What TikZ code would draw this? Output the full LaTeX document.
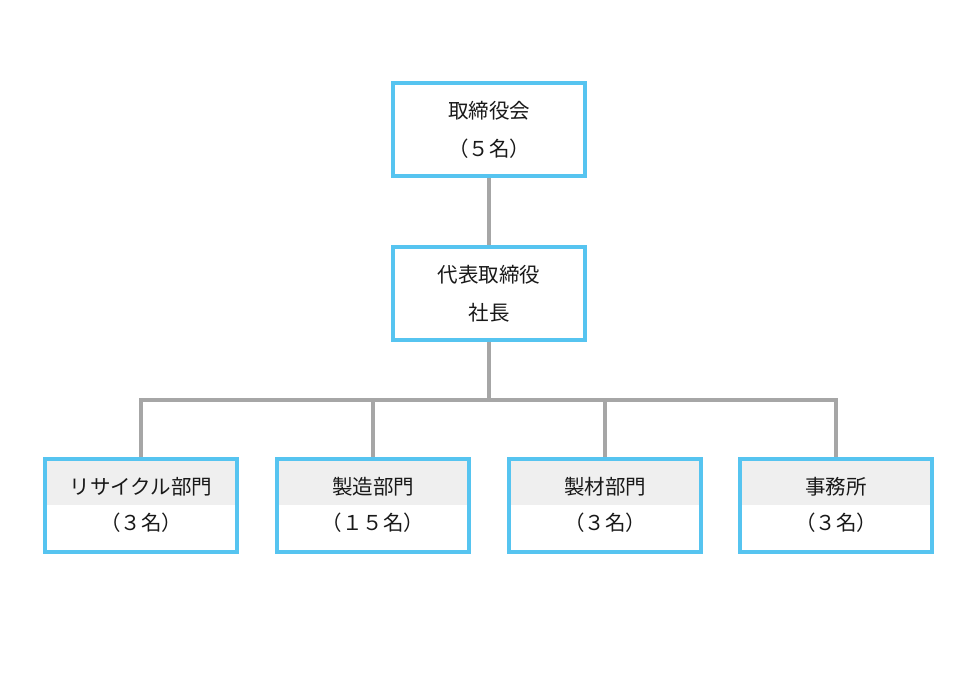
\documentclass[tikz,border=0pt]{standalone}
\usepackage{fontspec}
\setmainfont{Noto Sans CJK JP}
\definecolor{boxblue}{HTML}{56C4F0}
\definecolor{linegray}{HTML}{A6A6A6}
\definecolor{headfill}{HTML}{EFEFEF}
\begin{document}
\begin{tikzpicture}[x=1pt,y=-1pt,
  orgbox/.style={draw=boxblue,line width=4pt,fill=white,minimum width=192pt,minimum height=93pt,
    inner sep=0pt,align=center,font=\fontsize{20.5}{38}\selectfont,text=black!90},
  deptbox/.style={orgbox,font=\fontsize{20.5}{36}\selectfont,
    path picture={\fill[headfill] (path picture bounding box.north west) rectangle (path picture bounding box.east);}},
  conn/.style={draw=linegray,line width=4pt}]
\useasboundingbox (0,0) rectangle (980,700);
\node[orgbox] (board) at (489,129.5) {\raisebox{-2pt}{取締役会}\\\raisebox{-2pt}{（５名）}};
\node[orgbox] (ceo) at (489,294) {\raisebox{-2pt}{代表取締役}\\\raisebox{-2pt}{社長}};
\node[deptbox] (d1) at (141,505) {\raisebox{-1pt}{リサイクル部門}\\\raisebox{-1pt}{（３名）}};
\node[deptbox] (d2) at (373,505) {\raisebox{-1pt}{製造部門}\\\raisebox{-1pt}{（１５名）}};
\node[deptbox] (d3) at (605,505) {\raisebox{-1pt}{製材部門}\\\raisebox{-1pt}{（３名）}};
\node[deptbox] (d4) at (836,505) {\raisebox{-1pt}{事務所}\\\raisebox{-1pt}{（３名）}};
\coordinate (hub) at (489,400);
\draw[conn] (board.south) -- (ceo.north);
\draw[conn] (ceo.south) -- (hub);
\draw[conn] (d1.north) |- (hub) -| (d4.north);
\draw[conn] (d2.north) -- (d2.north |- hub);
\draw[conn] (d3.north) -- (d3.north |- hub);
\end{tikzpicture}
\end{document}
